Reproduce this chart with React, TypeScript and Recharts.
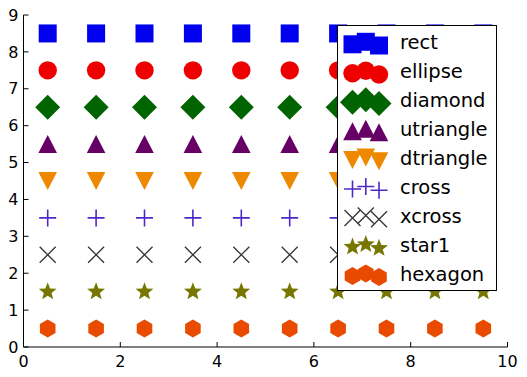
import React from 'react';
import { ScatterChart, Scatter, XAxis, YAxis, Legend } from 'recharts';

const xPositions = [0.5, 1.5, 2.5, 3.5, 4.5, 5.5, 6.5, 7.5, 8.5, 9.5];
const seriesNames = ['rect', 'ellipse', 'diamond', 'utriangle', 'dtriangle', 'cross', 'xcross', 'star1', 'hexagon'];
const seriesY = [8.5, 7.5, 6.5, 5.5, 4.5, 3.5, 2.5, 1.5, 0.5];
const seriesColors = ['#0000ee', '#ee0000', '#006400', '#660066', '#ee8800', '#5028c8', '#333333', '#777700', '#e84a00'];
const xTicks = [0, 2, 4, 6, 8, 10];
const yTicks = [0, 1, 2, 3, 4, 5, 6, 7, 8, 9];

const FONT = '"DejaVu Sans", sans-serif';

function starPoints(cx: number, cy: number, R: number, r: number) {
  const pts: string[] = [];
  for (let i = 0; i < 10; i++) {
    const rad = i % 2 === 0 ? R : r;
    const a = -Math.PI / 2 + (i * Math.PI) / 5;
    pts.push(`${cx + rad * Math.cos(a)},${cy + rad * Math.sin(a)}`);
  }
  return pts.join(' ');
}

function hexPoints(cx: number, cy: number, R: number) {
  const pts: string[] = [];
  for (let i = 0; i < 6; i++) {
    const a = -Math.PI / 2 + (i * Math.PI) / 3;
    pts.push(`${cx + R * Math.cos(a)},${cy + R * Math.sin(a)}`);
  }
  return pts.join(' ');
}

function Marker({ kind, cx, cy, color }: { kind: string; cx: number; cy: number; color: string }) {
  switch (kind) {
    case 'rect':
      return <rect x={cx - 9} y={cy - 9} width={18} height={18} fill={color} />;
    case 'ellipse':
      return <circle cx={cx} cy={cy} r={9.2} fill={color} />;
    case 'diamond':
      return (
        <polygon
          points={`${cx},${cy - 12.5} ${cx + 12.5},${cy} ${cx},${cy + 12.5} ${cx - 12.5},${cy}`}
          fill={color}
        />
      );
    case 'utriangle':
      return <polygon points={`${cx},${cy - 9} ${cx + 9.3},${cy + 9} ${cx - 9.3},${cy + 9}`} fill={color} />;
    case 'dtriangle':
      return <polygon points={`${cx},${cy + 9} ${cx + 9.3},${cy - 9} ${cx - 9.3},${cy - 9}`} fill={color} />;
    case 'cross':
      return (
        <path
          d={`M${cx - 8.5},${cy} H${cx + 8.5} M${cx},${cy - 8.5} V${cy + 8.5}`}
          stroke={color}
          strokeWidth={1.6}
          fill="none"
        />
      );
    case 'xcross':
      return (
        <path
          d={`M${cx - 8},${cy - 8} L${cx + 8},${cy + 8} M${cx + 8},${cy - 8} L${cx - 8},${cy + 8}`}
          stroke={color}
          strokeWidth={1.3}
          fill="none"
        />
      );
    case 'star1':
      return <polygon points={starPoints(cx, cy, 9.4, 4.0)} fill={color} />;
    case 'hexagon':
      return <polygon points={hexPoints(cx, cy, 9)} fill={color} />;
    default:
      return null;
  }
}

const seriesData = seriesNames.map((name, i) => ({
  name,
  color: seriesColors[i],
  data: xPositions.map((x) => ({ x, y: seriesY[i] })),
}));

const legendXs = [15.5, 28.8, 42];
const legendYOff = [-5, -7.5, -3.8];

function LegendBox() {
  return (
    <svg width={160} height={266} style={{ display: 'block' }}>
      <rect x={0.5} y={0.5} width={159} height={265} fill="#ffffff" stroke="#000000" strokeWidth={1} />
      {seriesData.map((s, i) => {
        const base = 24.3 + i * 28.95;
        return (
          <g key={s.name}>
            {legendXs.map((lx, j) => (
              <Marker key={j} kind={s.name} cx={lx} cy={base + legendYOff[j]} color={s.color} />
            ))}
            <text x={63} y={base} fontFamily={FONT} fontSize={19.5} fill="#000000">
              {s.name}
            </text>
          </g>
        );
      })}
    </svg>
  );
}

const tickStyle = { fontFamily: FONT, fontSize: 16, fill: '#000000' };

export default function App() {
  return (
    <div style={{ position: 'absolute', left: 0, top: 0, background: '#ffffff' }}>
      <ScatterChart width={527} height={377} margin={{ top: 15, right: 19.5, bottom: 0, left: 0 }}>
        <XAxis
          xAxisId="b"
          dataKey="x"
          type="number"
          domain={[0, 10]}
          ticks={xTicks}
          orientation="bottom"
          height={30}
          tickSize={-5}
          tickMargin={14}
          stroke="#000000"
          tick={tickStyle}
          allowDataOverflow
        />
        <XAxis
          xAxisId="t"
          dataKey="x"
          type="number"
          domain={[0, 10]}
          ticks={xTicks}
          orientation="top"
          height={0}
          tickSize={-5}
          tick={false}
          stroke="#000000"
          allowDataOverflow
        />
        <YAxis
          yAxisId="l"
          dataKey="y"
          type="number"
          domain={[0, 9]}
          ticks={yTicks}
          orientation="left"
          width={23.5}
          tickSize={-5}
          tickMargin={10}
          stroke="#000000"
          tick={tickStyle}
          allowDataOverflow
        />
        <YAxis
          yAxisId="r"
          dataKey="y"
          type="number"
          domain={[0, 9]}
          ticks={yTicks}
          orientation="right"
          width={0}
          tickSize={-5}
          tick={false}
          stroke="#000000"
          allowDataOverflow
        />
        {seriesData.map((s) => (
          <Scatter
            key={s.name}
            name={s.name}
            data={s.data}
            xAxisId="b"
            yAxisId="l"
            fill={s.color}
            isAnimationActive={false}
            shape={(p: any) => <Marker kind={s.name} cx={p.cx} cy={p.cy} color={s.color} />}
          />
        ))}
        <Scatter data={[{ x: 5, y: 4.5 }]} xAxisId="t" yAxisId="r" isAnimationActive={false} legendType="none" shape={() => <g />} />
        <Legend
          layout="vertical"
          align="center"
          verticalAlign="middle"
          wrapperStyle={{ position: 'absolute', left: 337, top: 25, width: 160, height: 266 }}
          content={() => <LegendBox />}
        />
      </ScatterChart>
    </div>
  );
}
